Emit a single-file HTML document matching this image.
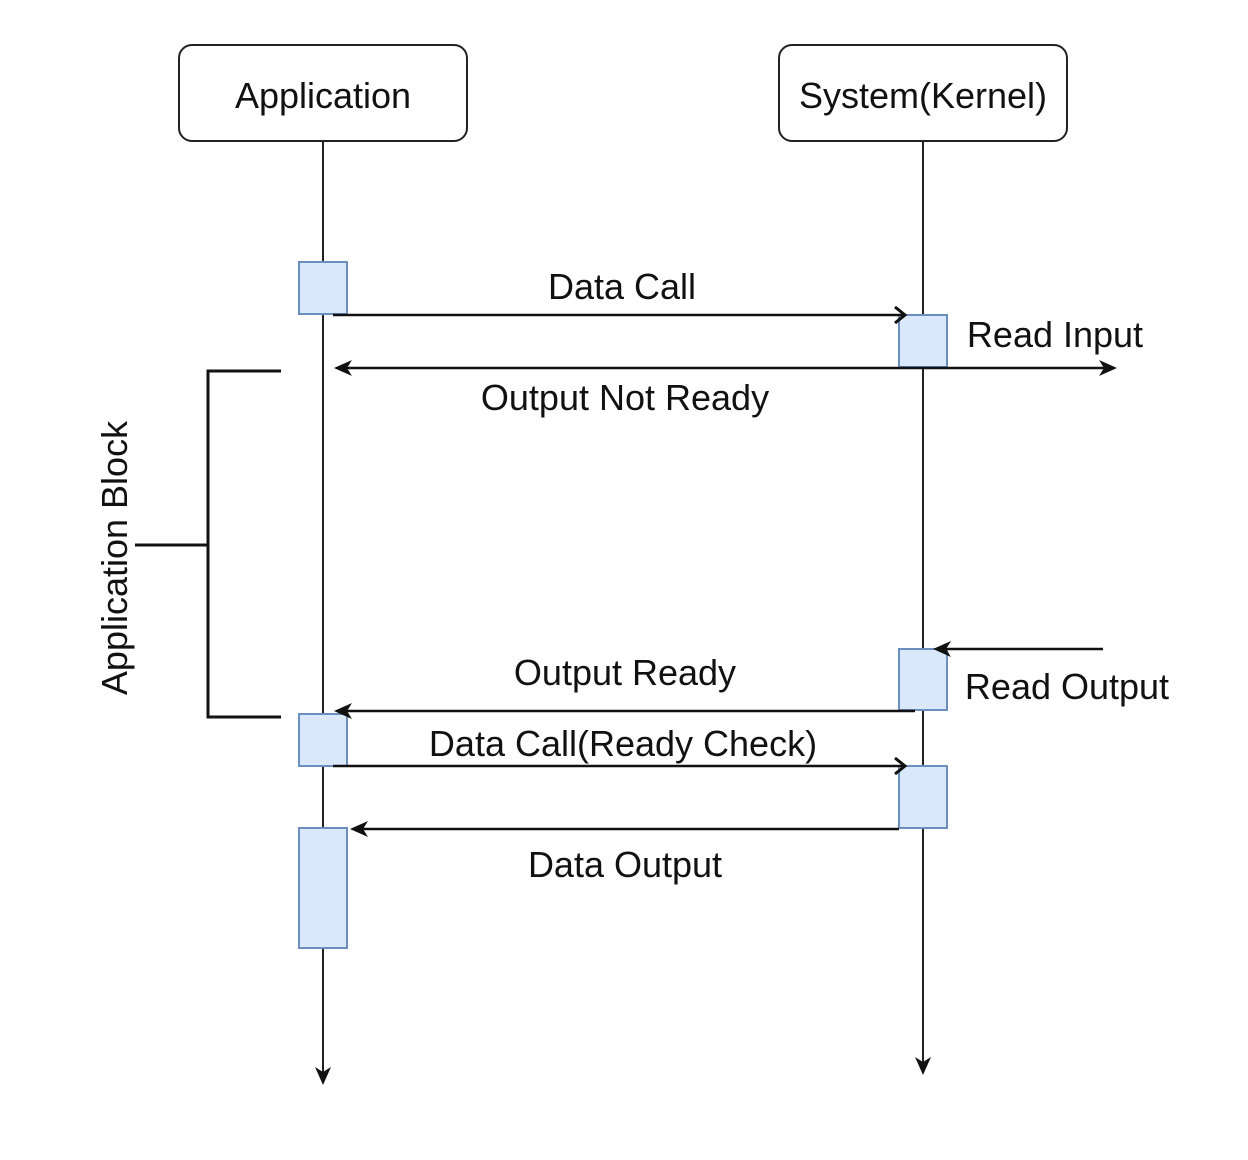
<!DOCTYPE html>
<html><head><meta charset="utf-8"><style>
html,body{margin:0;padding:0;background:#fff;}
svg{display:block;}
text{font-family:"Liberation Sans",Arial,sans-serif;fill:#111;}
</style></head><body>
<svg width="1248" height="1160" viewBox="0 0 1248 1160" xmlns="http://www.w3.org/2000/svg">
<defs>
<marker id="a" markerWidth="18" markerHeight="18" refX="15" refY="9" orient="auto" markerUnits="userSpaceOnUse">
<path d="M0,1 L18,9 L0,17 L5,9 Z" fill="#111"/>
</marker>
<marker id="o" markerWidth="14" markerHeight="18" refX="11" refY="9" orient="auto" markerUnits="userSpaceOnUse">
<path d="M1,1 L11,9 L1,17" fill="none" stroke="#111" stroke-width="3"/>
</marker>
</defs>
<rect x="179" y="45" width="288" height="96" rx="13" fill="#fff" stroke="#222" stroke-width="2"/>
<rect x="779" y="45" width="288" height="96" rx="13" fill="#fff" stroke="#222" stroke-width="2"/>
<text x="323" y="108" font-size="36" text-anchor="middle">Application</text>
<text x="923" y="108" font-size="36" text-anchor="middle">System(Kernel)</text>
<line x1="323" y1="141" x2="323" y2="1082" stroke="#222" stroke-width="2" marker-end="url(#a)"/>
<line x1="923" y1="141" x2="923" y2="1072" stroke="#222" stroke-width="2" marker-end="url(#a)"/>
<g fill="#dae8fc" stroke="#6c8ebf" stroke-width="2">
<rect x="299" y="262" width="48" height="52"/>
<rect x="899" y="315" width="48" height="52"/>
<rect x="899" y="649" width="48" height="61"/>
<rect x="299" y="714" width="48" height="52"/>
<rect x="899" y="766" width="48" height="62"/>
<rect x="299" y="828" width="48" height="120"/>
</g>
<g stroke="#111" stroke-width="2.5" fill="none">
<line x1="333" y1="315" x2="905" y2="315" marker-end="url(#o)"/>
<line x1="923" y1="368" x2="337" y2="368" marker-end="url(#a)"/>
<line x1="923" y1="368" x2="1114" y2="368" marker-end="url(#a)"/>
<line x1="1103" y1="649" x2="936" y2="649" marker-end="url(#a)"/>
<line x1="915" y1="711" x2="337" y2="711" marker-end="url(#a)"/>
<line x1="333" y1="766" x2="905" y2="766" marker-end="url(#o)"/>
<line x1="899" y1="829" x2="353" y2="829" marker-end="url(#a)"/>
</g>
<g stroke="#111" stroke-width="3" fill="none">
<polyline points="281,371 208,371 208,717 281,717"/>
<line x1="135" y1="545" x2="208" y2="545"/>
</g>
<text x="622" y="299" font-size="36" text-anchor="middle">Data Call</text>
<text x="1055" y="347" font-size="36" text-anchor="middle">Read Input</text>
<text x="625" y="410" font-size="36" text-anchor="middle">Output Not Ready</text>
<text x="625" y="685" font-size="36" text-anchor="middle">Output Ready</text>
<text x="1067" y="699" font-size="36" text-anchor="middle">Read Output</text>
<text x="623" y="756" font-size="36" text-anchor="middle">Data Call(Ready Check)</text>
<text x="625" y="877" font-size="36" text-anchor="middle">Data Output</text>
<text x="0" y="0" font-size="36" text-anchor="middle" transform="translate(127,558) rotate(-90)">Application Block</text>
</svg>
</body></html>
